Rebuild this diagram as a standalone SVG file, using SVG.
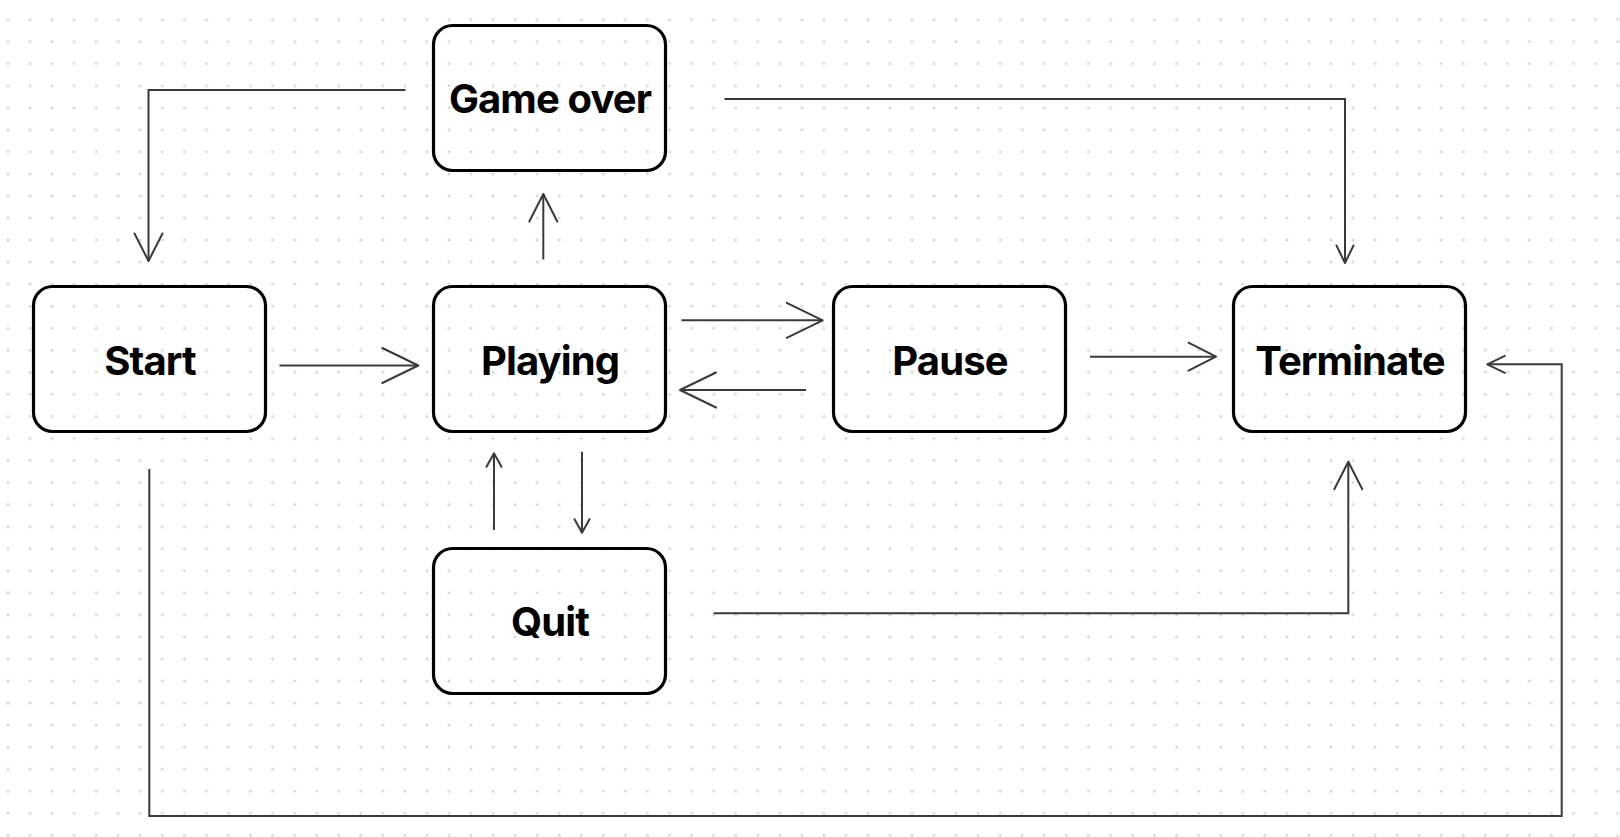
<svg xmlns="http://www.w3.org/2000/svg" width="1620" height="837" viewBox="0 0 1620 837">
  <style>
    .node rect { fill: none; stroke: #000; stroke-width: 3.2; }
    .node text { font-family: Inter, "Liberation Sans", sans-serif; font-weight: 700; font-size: 40px; letter-spacing: -0.9px; fill: #000; text-anchor: middle; }
    .edge { fill: none; stroke: #3a3a3a; stroke-width: 2; }
    .head { fill: none; stroke: #3a3a3a; stroke-width: 2; stroke-linecap: round; stroke-linejoin: round; }
  </style>
  <defs>
    <pattern id="dots" x="8" y="19.5" width="22.05" height="22.05" patternUnits="userSpaceOnUse">
      <circle cx="0" cy="0" r="1.5" fill="#d6d6d6"/>
      <circle cx="22.05" cy="0" r="1.5" fill="#d6d6d6"/>
      <circle cx="0" cy="22.05" r="1.5" fill="#d6d6d6"/>
      <circle cx="22.05" cy="22.05" r="1.5" fill="#d6d6d6"/>
    </pattern>
    <marker id="lg" markerUnits="userSpaceOnUse" orient="auto" refX="0" refY="0" markerWidth="40" markerHeight="40" overflow="visible">
      <path class="head" d="M -36 -17.5 L 0 0 L -36 17.5"/>
    </marker>
    <marker id="md" markerUnits="userSpaceOnUse" orient="auto" refX="0" refY="0" markerWidth="30" markerHeight="30" overflow="visible">
      <path class="head" d="M -27.5 -14 L 0 0 L -27.5 14"/>
    </marker>
    <marker id="sm" markerUnits="userSpaceOnUse" orient="auto" refX="0" refY="0" markerWidth="20" markerHeight="20" overflow="visible">
      <path class="head" d="M -17.5 -8.5 L 0 0 L -17.5 8.5"/>
    </marker>
    <marker id="xs" markerUnits="userSpaceOnUse" orient="auto" refX="0" refY="0" markerWidth="16" markerHeight="16" overflow="visible">
      <path class="head" d="M -13.5 -7.5 L 0 0 L -13.5 7.5"/>
    </marker>
  </defs>
  <rect x="0" y="0" width="1620" height="837" fill="#fff"/>
  <rect x="0" y="0" width="1620" height="837" fill="url(#dots)"/>

  <g id="connectors">
    <path class="edge" d="M 405.5 90 H 148.5 V 261" marker-end="url(#md)"/>
    <path class="edge" d="M 724.5 99 H 1345 V 263" marker-end="url(#sm)"/>
    <path class="edge" d="M 543.3 259.5 V 194" marker-end="url(#md)"/>
    <path class="edge" d="M 279.5 365.5 H 418.3" marker-end="url(#lg)"/>
    <path class="edge" d="M 681.5 320.3 H 822.7" marker-end="url(#lg)"/>
    <path class="edge" d="M 806 390 H 680" marker-end="url(#lg)"/>
    <path class="edge" d="M 1090 356.7 H 1216" marker-end="url(#md)"/>
    <path class="edge" d="M 494 530 V 453.3" marker-end="url(#xs)"/>
    <path class="edge" d="M 582 451.7 V 532.7" marker-end="url(#xs)"/>
    <path class="edge" d="M 713.5 613.3 H 1348.3 V 461.7" marker-end="url(#md)"/>
    <path class="edge" d="M 149.3 469 V 816 H 1561.7 V 364.3 H 1487.3" marker-end="url(#sm)"/>
  </g>

  <g id="node-gameover" class="node">
    <rect x="433.5" y="25.5" width="232" height="145" rx="19"/>
    <text x="550" y="113">Game over</text>
  </g>
  <g id="node-start" class="node">
    <rect x="33.5" y="286.5" width="232" height="145" rx="19"/>
    <text x="150" y="374.5">Start</text>
  </g>
  <g id="node-playing" class="node">
    <rect x="433.5" y="286.5" width="232" height="145" rx="19"/>
    <text x="550" y="374.5">Playing</text>
  </g>
  <g id="node-pause" class="node">
    <rect x="833.5" y="286.5" width="232" height="145" rx="19"/>
    <text x="950" y="374.5">Pause</text>
  </g>
  <g id="node-terminate" class="node">
    <rect x="1233.5" y="286.5" width="232" height="145" rx="19"/>
    <text x="1350" y="374.5">Terminate</text>
  </g>
  <g id="node-quit" class="node">
    <rect x="433.5" y="548.5" width="232" height="145" rx="19"/>
    <text x="550" y="636">Quit</text>
  </g>
</svg>
